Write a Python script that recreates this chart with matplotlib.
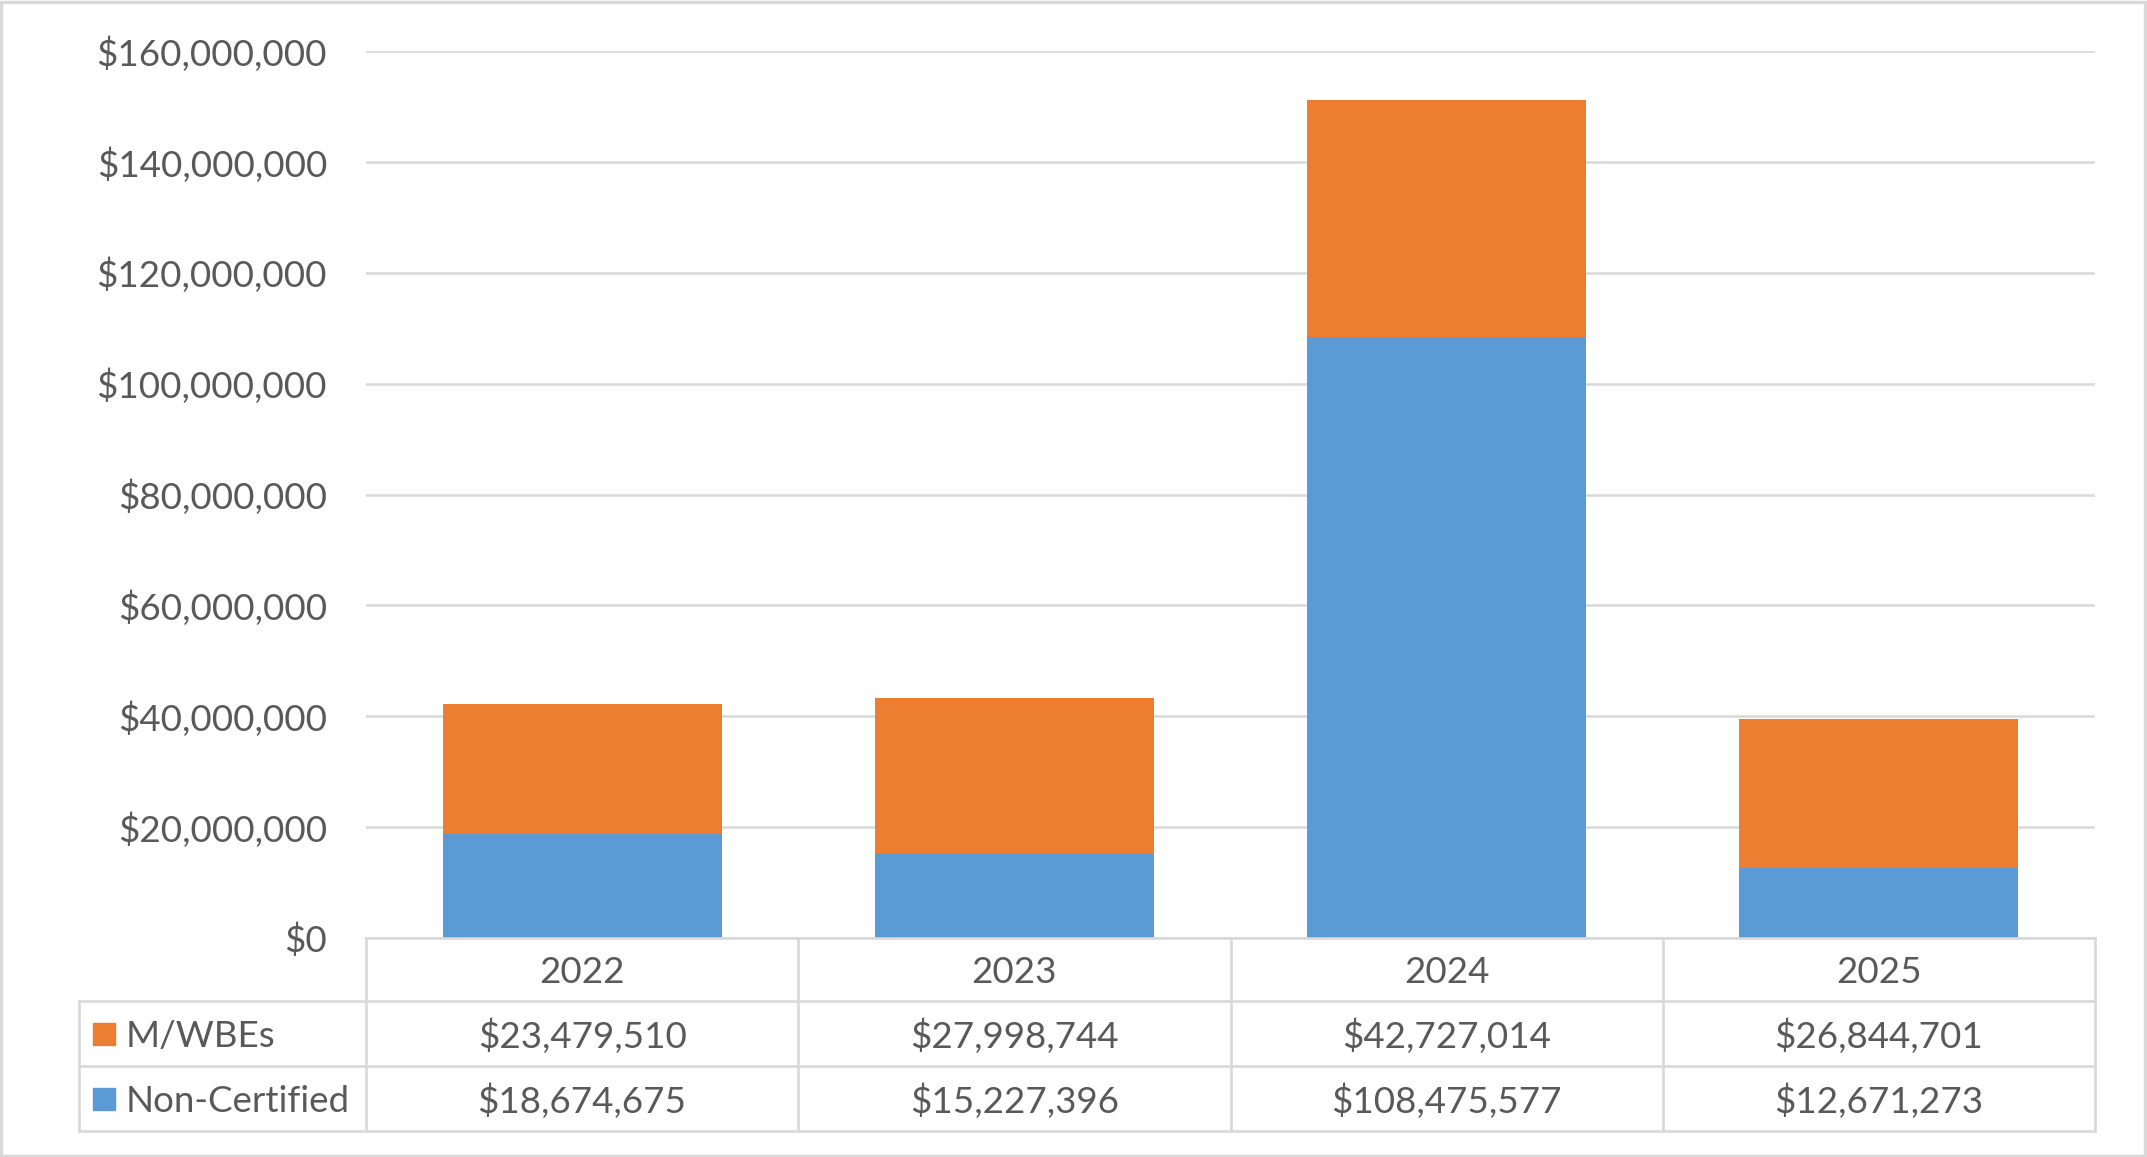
import matplotlib
matplotlib.use("Agg")
import matplotlib.pyplot as plt
import matplotlib.transforms as mtransforms
from matplotlib.patches import Rectangle
from matplotlib.lines import Line2D
from matplotlib.ticker import FuncFormatter

# data
years = ["2022", "2023", "2024", "2025"]
mwbe = [23479510, 27998744, 42727014, 26844701]
non_certified = [18674675, 15227396, 108475577, 12671273]
series_names = ["M/WBEs", "Non-Certified"]

ORANGE = "#ED7D31"
BLUE = "#5B9BD5"
GRID = "#D9D9D9"
TEXT = "#595959"
FS = 26.5

plt.rcParams['font.family'] = ['Lato', 'DejaVu Sans']

W, H = 2147, 1157
fig = plt.figure(figsize=(W / 100, H / 100), dpi=100)

# plot area in pixels
left, right, top, bottom = 366, 2095, 51, 938
ax = fig.add_axes([left / W, 1 - bottom / H, (right - left) / W, (bottom - top) / H])

x = list(range(len(years)))
ax.bar(x, non_certified, width=0.645, color=BLUE, zorder=3)
ax.bar(x, mwbe, width=0.645, bottom=non_certified, color=ORANGE, zorder=3)

ax.set_xlim(-0.5, len(years) - 0.5)
ax.set_ylim(0, 160000000)
ax.set_yticks(range(0, 160000001, 20000000))
ax.yaxis.set_major_formatter(FuncFormatter(lambda v, p: "${:,.0f}".format(v)))
ax.tick_params(axis='y', length=0, pad=28, labelsize=FS, labelcolor=TEXT)
ax.set_xticks([])
ax.grid(axis='y', color=GRID, linewidth=1.8, zorder=0)
for s in ax.spines.values():
    s.set_visible(False)

# data table below the axes
def fy(py):
    return 1 - py / H

def fx(px):
    return px / W

row_y = [938, 1001, 1066, 1131]
tab_left = 79
lw = 1.9
# horizontal lines
fig.add_artist(Line2D([fx(left), fx(right)], [fy(row_y[0])] * 2, color=GRID, lw=lw))
for ry in row_y[1:]:
    fig.add_artist(Line2D([fx(tab_left), fx(right)], [fy(ry)] * 2, color=GRID, lw=lw))
# vertical lines
fig.add_artist(Line2D([fx(tab_left)] * 2, [fy(row_y[1]), fy(row_y[3])], color=GRID, lw=lw))
col_w = (right - left) / len(years)
for i in range(len(years) + 1):
    cx = left + i * col_w
    fig.add_artist(Line2D([fx(cx)] * 2, [fy(row_y[0]), fy(row_y[3])], color=GRID, lw=lw))

trans = mtransforms.blended_transform_factory(ax.transData, fig.transFigure)
off = 3
for i, yr in enumerate(years):
    fig.text(i, fy((row_y[0] + row_y[1]) / 2 + off), yr, transform=trans, ha='center',
             va='center', fontsize=FS, color=TEXT)
    fig.text(i, fy((row_y[1] + row_y[2]) / 2 + off), "${:,}".format(mwbe[i]), transform=trans,
             ha='center', va='center', fontsize=FS, color=TEXT)
    fig.text(i, fy((row_y[2] + row_y[3]) / 2 + off), "${:,}".format(non_certified[i]), transform=trans,
             ha='center', va='center', fontsize=FS, color=TEXT)

# legend keys in the row headers
for name, col, r0, r1 in [(series_names[0], ORANGE, row_y[1], row_y[2]),
                          (series_names[1], BLUE, row_y[2], row_y[3])]:
    cy = (r0 + r1) / 2
    fig.add_artist(Rectangle((fx(93), fy(cy + 11)), 22 / W, 22 / H, color=col,
                             transform=fig.transFigure))
    fig.text(fx(126), fy(cy + off), name, ha='left', va='center', fontsize=FS, color=TEXT)

# outer chart border
fig.add_artist(Rectangle((1 / W, 1 / H), (W - 3) / W, (H - 3) / H, fill=False,
                         edgecolor=GRID, lw=2.5, transform=fig.transFigure))

fig.savefig("out.png", dpi=100, facecolor="white")
